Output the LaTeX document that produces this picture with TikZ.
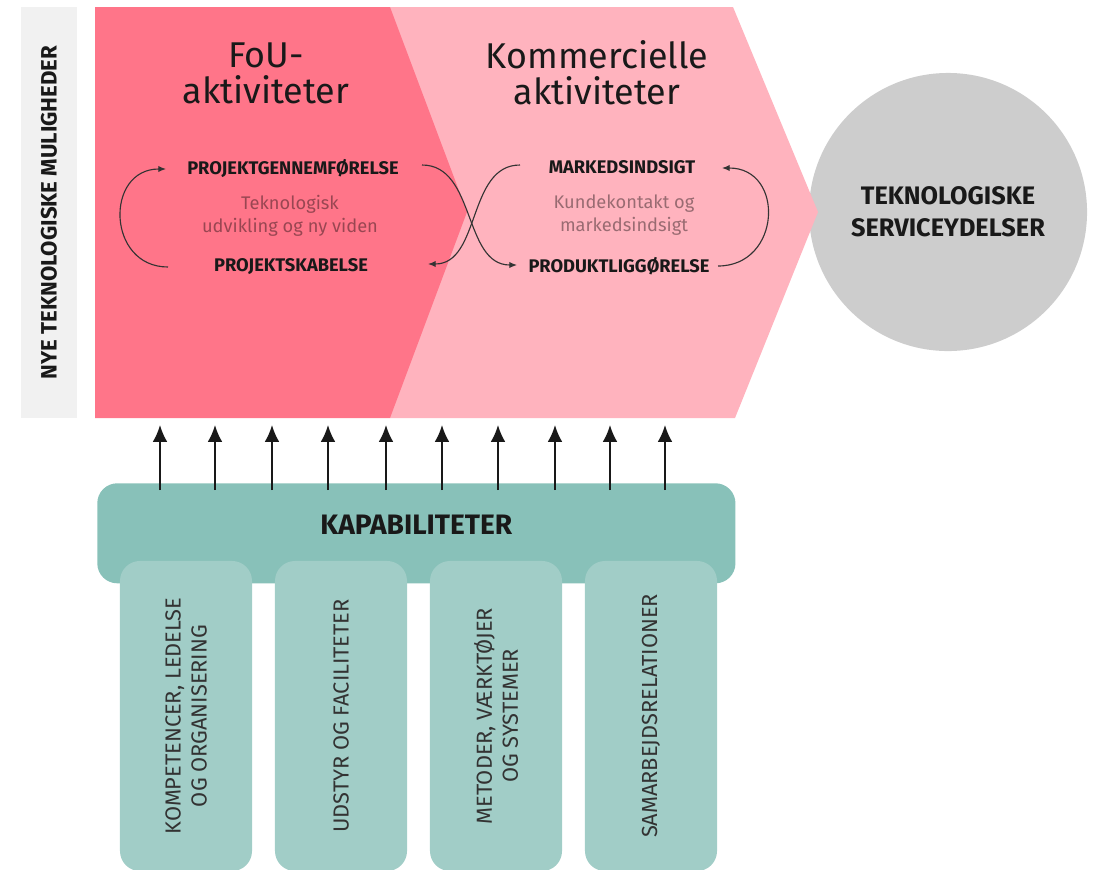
\documentclass[tikz,border=0pt]{standalone}
\usepackage{fontspec}
\setmainfont{Fira Sans}
\usetikzlibrary{arrows.meta,calc}
\definecolor{foupink}{RGB}{255,117,137}
\definecolor{kompink}{RGB}{255,179,190}
\definecolor{bargray}{RGB}{241,241,241}
\definecolor{svcgray}{RGB}{205,205,205}
\definecolor{kapteal}{RGB}{136,193,185}
\definecolor{pillarteal}{RGB}{161,205,199}
\tikzset{%
    phase title/.style={%
        align=center, text=black!90,
        font=\fontsize{25.5}{25.5}\selectfont
    },
    phase step/.style={%
        text=black!90, inner sep=0pt,
        font=\fontsize{13}{15}\selectfont\bfseries
    },
    phase note/.style={%
        align=center, text=black, text opacity=0.4,
        font=\fontsize{13}{16}\selectfont
    }
}

\begin{document}
\begin{tikzpicture}[x=0.025cm,y=-0.025cm,>={Latex[length=5.5pt,width=4.5pt]},
  loop arrow/.style={->,draw=black!80,line width=0.8pt},
  up arrow/.style={-{Latex[length=12pt,width=10.5pt]},line width=1.4pt,draw=black!90},
  pillar/.style={rotate=90,fill=pillarteal,rounded corners=0.5cm,align=center,
    minimum width=7.75cm,minimum height=3.3cm,inner sep=0pt,text=black!80,
    font=\fontsize{15.5}{18.5}\selectfont}]

  \useasboundingbox (0,0) rectangle (1095,869);
  \clip (0,0) rectangle (1095,869);

  \node[rotate=90,fill=bargray,minimum width=10.275cm,minimum height=1.4cm,
    font=\fontsize{15.8}{18}\selectfont\bfseries,text=black!90] (nye) at (49,212.5)
    {NYE TEKNOLOGISKE MULIGHEDER};

  \node[circle,fill=svcgray,minimum size=6.95cm,align=center,text=black!90,
    font=\fontsize{18}{22.5}\selectfont\bfseries] (svc) at (948,212)
    {TEKNOLOGISKE\\SERVICEYDELSER};

  % the two phases
  \fill[kompink] (390,7) -- (733,7) -- (818,212) -- (735,418) -- (390,418) -- cycle;
  \fill[foupink] (95,7) -- (390,7) -- (467,212) -- (390,418) -- (95,418) -- cycle;

  \node[phase title] (fou) at (266,73) {FoU-\\aktiviteter};
  \node[phase title] (kom) at (597,73) {Kommercielle\\aktiviteter};

  \node[phase step] (pg) at (293,168) {PROJEKTGENNEMFØRELSE};
  \node[phase note] (tu) at (290,216) {Teknologisk\\udvikling og ny viden};
  \node[phase step] (ps) at (291,267) {PROJEKTSKABELSE};

  \node[phase step] (mi) at (622,167) {MARKEDSINDSIGT};
  \node[phase note] (kk) at (624,215) {Kundekontakt og\\markedsindsigt};
  \node[phase step] (pl) at (619,266) {PRODUKTLIGGØRELSE};

  \draw[loop arrow] ($(ps)+(-123,0)$) to[out=180,in=180,looseness=1.6] ($(pg)+(-127,1)$);
  \draw[loop arrow] ($(pl)+(99,0)$) to[out=0,in=0,looseness=1.65] ($(mi)+(100,1)$);
  \draw[loop arrow] ($(pg)+(129,-3)$) to[out=0,in=180] ($(pl)+(-102,-1)$);
  \draw[loop arrow] ($(mi)+(-102,-2)$) to[out=180,in=0] ($(ps)+(137,-3)$);

  % capabilities
  \node[fill=kapteal,rounded corners=0.5cm,minimum width=15.95cm,minimum height=2.5cm,
    inner sep=0pt,anchor=north west] (kap) at (97,483) {};
  \node[font=\fontsize{20}{22}\selectfont\bfseries,text=black!90] (kaplbl)
    at (kap.center |- 0,525) {KAPABILITETER};

  \foreach \px/\lbl [count=\i] in {186/{KOMPETENCER, LEDELSE\\OG ORGANISERING},
      341/{UDSTYR OG FACILITETER},
      496/{METODER, VÆRKTØJER\\OG SYSTEMER},
      651/{SAMARBEJDSRELATIONER}}
    \node[pillar] (p\i) at (\px,716) {\lbl};

  \coordinate (tips) at (0,425);
  \foreach \x in {160,215,272,328,386,442,498,555,610,665}
    \draw[up arrow] (kap.north -| \x,0) ++(0,7) -- (\x,0 |- tips);
\end{tikzpicture}
\end{document}
